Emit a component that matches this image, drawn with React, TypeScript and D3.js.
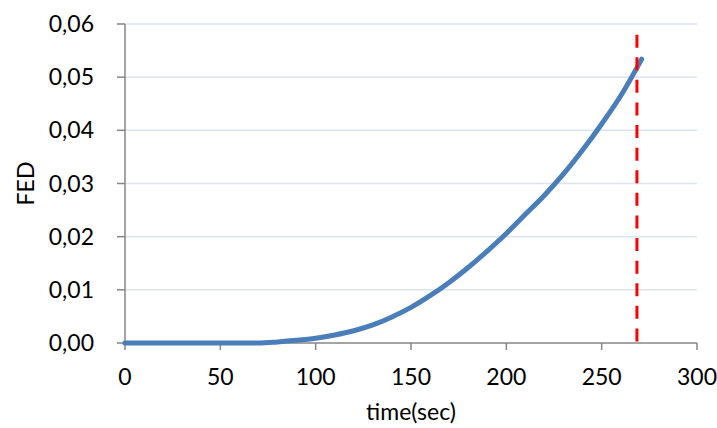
import React from "react";
import * as d3 from "d3";

const times = [0, 20, 40, 60, 70, 80, 90, 100, 110, 120, 130, 140, 150, 160, 170, 180, 190, 200, 210, 220, 230, 240, 250, 260, 271];
const fedValues = [0, 0, 0, 0, 0, 0.0002, 0.0005, 0.0009, 0.0015, 0.0023, 0.0034, 0.0049, 0.0067, 0.0089, 0.0114, 0.0142, 0.0173, 0.0206, 0.0242, 0.0278, 0.0318, 0.0363, 0.0412, 0.0465, 0.0534];
const xTicks = [0, 50, 100, 150, 200, 250, 300];
const yTicks = [0, 0.01, 0.02, 0.03, 0.04, 0.05, 0.06];
const limitTime = [268.5];
const limitTop = [0.058];

const W = 717;
const H = 428;
const FONT = "Lato, 'Open Sans', sans-serif";

export default function App() {
  const x = d3.scaleLinear().domain([0, 300]).range([125, 697]);
  const y = d3.scaleLinear().domain([0, 0.06]).range([343, 24]);
  const pts = times.map((t, i) => [t, fedValues[i]] as [number, number]);
  const line = d3
    .line<[number, number]>()
    .x((d) => x(d[0]))
    .y((d) => y(d[1]))
    .curve(d3.curveMonotoneX);
  const fmt = (v: number) => v.toFixed(2).replace(".", ",");

  return (
    <svg
      width={W}
      height={H}
      style={{ position: "absolute", left: 0, top: 0, background: "#fff" }}
      fontFamily={FONT}
    >
      {yTicks.slice(1).map((v) => (
        <line key={"g" + v} x1={x(0)} x2={x(300)} y1={y(v)} y2={y(v)} stroke="#DCE4F2" strokeWidth={1.5} />
      ))}
      <line x1={x(0)} x2={x(0)} y1={y(0.06)} y2={y(0)} stroke="#868686" strokeWidth={1.5} />
      <line x1={x(0)} x2={x(300)} y1={y(0)} y2={y(0)} stroke="#868686" strokeWidth={1.5} />
      {yTicks.map((v) => (
        <g key={"y" + v}>
          <line x1={x(0) - 8} x2={x(0)} y1={y(v)} y2={y(v)} stroke="#868686" strokeWidth={1.5} />
          <text x={94} y={y(v)} dy="0.35em" textAnchor="end" fontSize={23} fill="#000">
            {fmt(v)}
          </text>
        </g>
      ))}
      {xTicks.map((v) => (
        <g key={"x" + v}>
          <line x1={x(v)} x2={x(v)} y1={y(0)} y2={y(0) + 7} stroke="#868686" strokeWidth={1.5} />
          <text x={x(v)} y={385} textAnchor="middle" fontSize={23} fill="#000">
            {v}
          </text>
        </g>
      ))}
      <text x={411} y={420} textAnchor="middle" fontSize={23} fill="#000">
        time(sec)
      </text>
      <text
        transform={`translate(34,${y(0.03)}) rotate(-90)`}
        textAnchor="middle"
        fontSize={23}
        fill="#000"
      >
        FED
      </text>
      <path d={line(pts) || ""} fill="none" stroke="#4A7EBB" strokeWidth={5} strokeLinecap="round" />
      {limitTime.map((t, i) => (
        <line
          key={"r" + i}
          x1={x(t)}
          x2={x(t)}
          y1={y(limitTop[i])}
          y2={y(0)}
          stroke="#FF0000"
          strokeWidth={3}
          strokeDasharray="13,9.6"
        />
      ))}
    </svg>
  );
}
